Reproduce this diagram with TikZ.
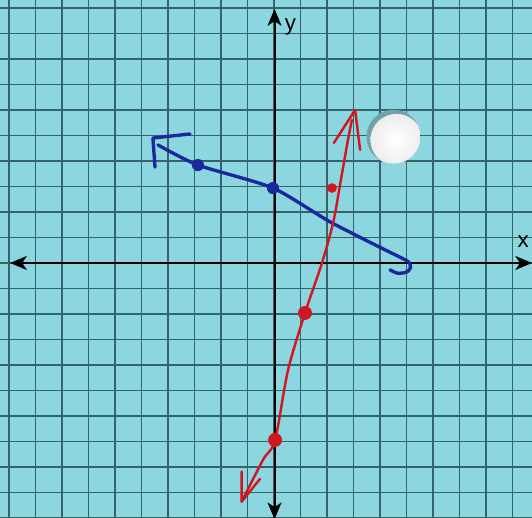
\documentclass[tikz,border=0pt]{standalone}
\usepackage{fontspec}
\setsansfont{Liberation Sans}
\usetikzlibrary{arrows.meta}
\definecolor{paper}{RGB}{140,214,224}
\definecolor{gridc}{RGB}{52,100,106}
\definecolor{pen}{RGB}{26,40,156}
\definecolor{ink}{RGB}{208,22,34}
\definecolor{rim}{RGB}{112,164,170}
\tikzset{
  grd/.style={draw=gridc,line width=.7pt},
  ax/.style={draw=black,line width=1.1pt,{Stealth[length=9pt,width=7.5pt,inset=2.5pt]}-{Stealth[length=9pt,width=7.5pt,inset=2.5pt]}},
  bln/.style={draw=pen,line width=1.8pt,line cap=round,line join=round},
  rln/.style={draw=ink,line width=1.3pt,line cap=round,line join=round},
  bdot/.style={circle,fill=pen,minimum size=6.5pt,inner sep=0pt},
  rdot/.style={circle,fill=ink,minimum size=7.5pt,inner sep=0pt},
  rdots/.style={circle,fill=ink,minimum size=5.2pt,inner sep=0pt},
  lb/.style={font=\sffamily\fontsize{12}{14}\selectfont,inner sep=0pt},
}
\begin{document}
\begin{tikzpicture}[x=0.5cm,y=0.4811cm]
\fill[paper] (-10.34,-10) rectangle (9.736,10.314);
\useasboundingbox (-10.34,-10) rectangle (9.736,10.314);
% ---- graph paper
\foreach \i in {-10,...,9} \draw[grd] (\i,-10) -- (\i,10.314);
\foreach \j in {-10,...,10} \draw[grd] (-10.34,\j) -- (9.736,\j);
% ---- axes
\coordinate (xl) at (-9.96,0); \coordinate (xr) at (9.74,0);
\coordinate (yb) at (0.02,-10.05); \coordinate (yt) at (0.02,9.96);
\draw[ax] (xl) -- (xr);
\draw[ax] (yb) -- (yt);
\node[lb] (xlab) at (9.4,0.82) {x};
\node[lb] (ylab) at (0.62,9.25) {y};
% ---- punched hole
\begin{scope}
  \clip (4.51,4.95) circle[radius=0.51cm];
  \fill[rim] (4.51,4.95) circle[radius=0.51cm];
  \shade[inner color=white,outer color=white!86!gray] (4.62,4.83) circle[radius=0.49cm];
\end{scope}
% ---- blue line
\node[bdot] (b1) at (-2.87,3.84) {};
\node[bdot] (b2) at (-0.04,2.94) {};
\coordinate (bs) at (-4.38,4.63); \coordinate (be) at (5.0,0.1);
\draw[bln] plot[smooth,tension=.4] coordinates {(bs) (b1.center) (b2.center) (2.19,1.57) (be)};
\draw[bln] (-3.17,5.06) -- (-4.57,4.9) -- (-4.49,3.76);
\draw[bln] (be) .. controls (5.25,-0.05) and (5.2,-0.35) .. (4.87,-0.39) .. controls (4.65,-0.42) .. (4.38,-0.27);
% ---- red line
\node[rdot] (r1) at (1.17,-1.96) {};
\node[rdot] (r2) at (0.04,-6.94) {};
\node[rdots] (r3) at (2.19,2.94) {};
\coordinate (rt) at (3.06,6.0); \coordinate (rb) at (-1.22,-9.36);
\draw[rln] plot[smooth,tension=.5] coordinates {(2.94,5.61) (2.79,4.82) (2.49,3.06) (2.23,1.57) (1.81,0) (r1.center) (0.53,-4.2) (r2.center) (-0.42,-7.73) (rb)};
\draw[rln] (2.26,4.71) -- (rt) -- (3.25,4.43);
\draw[rln] (-1.22,-8.18) -- (rb) -- (-0.53,-8.47);
\end{tikzpicture}
\end{document}
